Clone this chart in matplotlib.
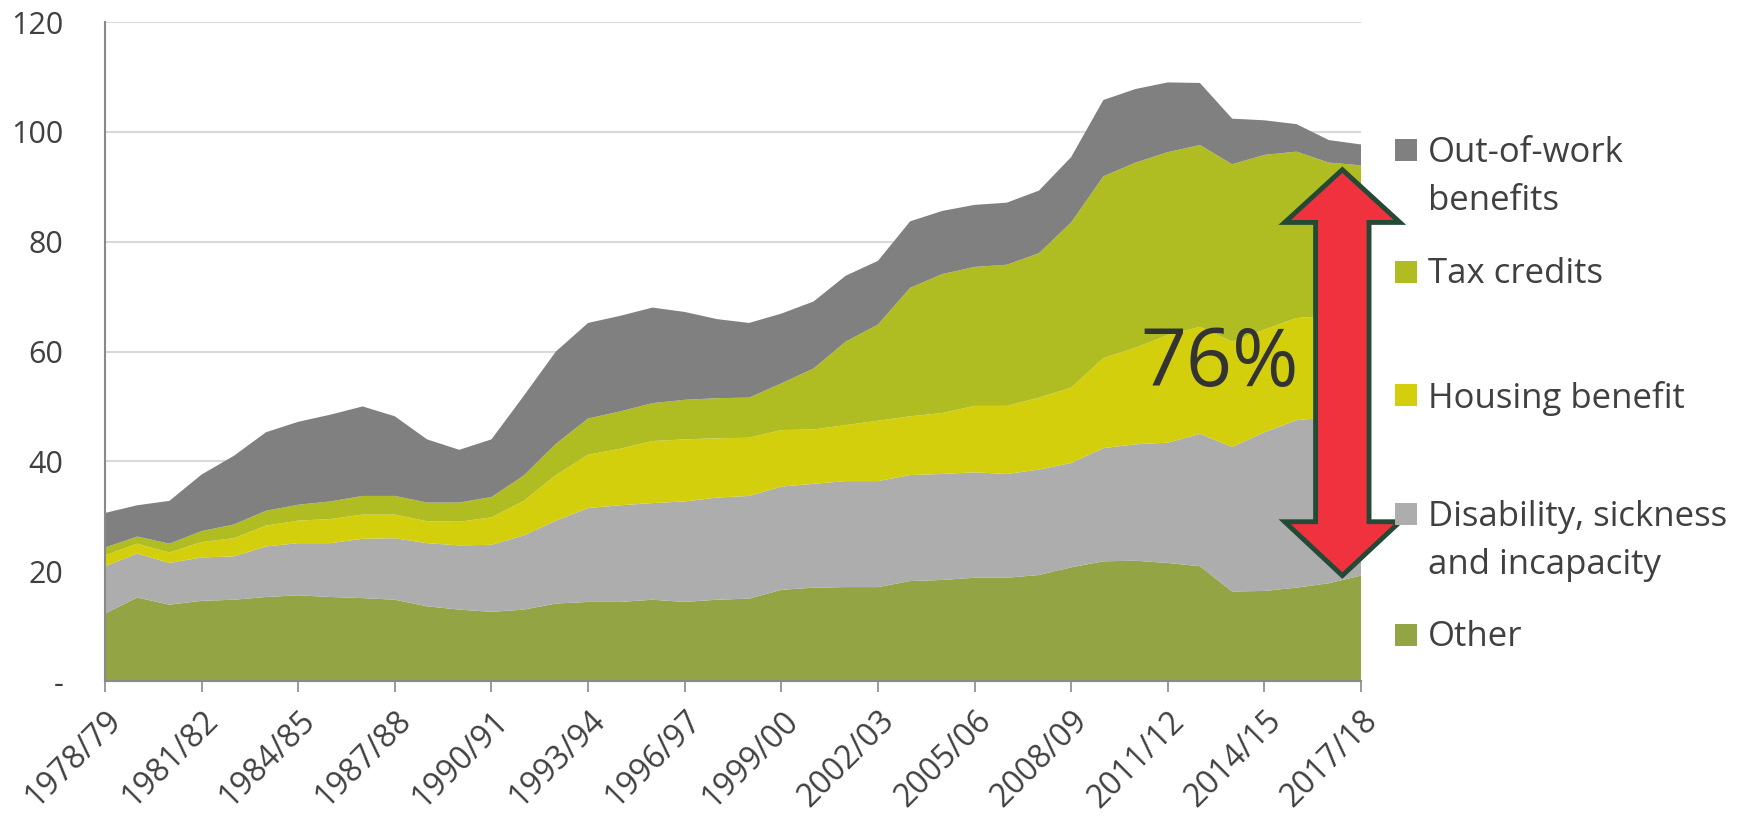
import matplotlib
matplotlib.use("Agg")
import matplotlib.pyplot as plt
import numpy as np
from matplotlib.patches import Polygon, Rectangle

years = [f"{y}/{str(y + 1)[-2:]}" for y in range(1978, 2018)]

other = [12.3, 15.2, 13.9, 14.6, 14.8, 15.3, 15.6, 15.3, 15.1, 14.8,
         13.6, 13.0, 12.6, 13.0, 14.1, 14.4, 14.4, 14.8, 14.4, 14.8,
         15.0, 16.6, 17.0, 17.1, 17.1, 18.2, 18.4, 18.8, 18.8, 19.3,
         20.7, 21.8, 21.9, 21.5, 20.9, 16.3, 16.4, 17.0, 17.8, 19.2]
disability = [8.6, 8.0, 7.6, 7.9, 7.9, 9.2, 9.5, 9.8, 10.8, 11.2,
              11.5, 11.7, 12.2, 13.5, 15.1, 17.1, 17.6, 17.6, 18.3, 18.6,
              18.7, 18.8, 18.9, 19.3, 19.3, 19.3, 19.3, 19.2, 18.9, 19.2,
              19.0, 20.6, 21.2, 21.9, 24.1, 26.3, 28.9, 30.5, 30.2, 29.3]
housing = [2.0, 1.8, 1.9, 2.8, 3.3, 3.8, 4.1, 4.4, 4.4, 4.3,
           4.0, 4.3, 5.0, 6.3, 8.3, 9.7, 10.3, 11.3, 11.3, 10.8,
           10.6, 10.3, 9.9, 10.2, 11.0, 10.7, 11.1, 12.1, 12.4, 13.1,
           13.7, 16.4, 17.6, 19.6, 19.5, 19.2, 18.7, 18.6, 18.5, 18.5]
tax_credits = [1.4, 1.3, 1.6, 2.0, 2.5, 2.7, 2.9, 3.2, 3.4, 3.4,
               3.4, 3.5, 3.7, 4.6, 5.7, 6.6, 6.8, 6.9, 7.2, 7.3,
               7.3, 8.5, 11.1, 15.2, 17.5, 23.4, 25.3, 25.3, 25.7, 26.3,
               30.1, 33.1, 33.7, 33.3, 33.1, 32.3, 31.8, 30.3, 27.9, 26.9]
out_of_work = [6.3, 5.7, 7.8, 10.3, 12.5, 14.3, 15.1, 15.8, 16.3, 14.5,
               11.5, 9.6, 10.5, 14.5, 16.8, 17.4, 17.4, 17.4, 16.0, 14.4,
               13.6, 12.7, 12.2, 12.0, 11.6, 12.1, 11.5, 11.3, 11.3, 11.4,
               11.9, 13.9, 13.4, 12.7, 11.3, 8.3, 6.3, 5.0, 4.1, 3.8]

series_labels = ["Other", "Disability, sickness\nand incapacity", "Housing benefit",
                 "Tax credits", "Out-of-work\nbenefits"]
colors = ["#93A445", "#ADADAD", "#D4CF0D", "#AFBD22", "#808080"]
y_ticks = [0, 20, 40, 60, 80, 100, 120]
y_tick_labels = ["-", "20", "40", "60", "80", "100", "120"]
share_label = "76%"

text_color = "#404040"
plt.rcParams["font.family"] = ["Open Sans", "DejaVu Sans"]

fig = plt.figure(figsize=(17.46, 8.16), dpi=100)
ax = fig.add_axes([105 / 1746, 1 - 681 / 816, (1361 - 105) / 1746, (681 - 22) / 816])

x = np.arange(len(years))
ax.stackplot(x, other, disability, housing, tax_credits, out_of_work,
             colors=colors, linewidth=0, zorder=2)

ax.set_xlim(0, len(years) - 1)
ax.set_ylim(0, 120)
ax.set_yticks(y_ticks)
ax.set_yticklabels(y_tick_labels)
ax.set_xticks(x[::3])
ax.set_xticklabels(years[::3], rotation=45, ha="right", va="top",
                   rotation_mode="anchor")
ax.tick_params(axis="y", length=0, pad=30, labelsize=22, labelcolor=text_color)
ax.tick_params(axis="x", length=8, width=1.2, color="#898989", pad=9,
               labelsize=23, labelcolor=text_color)
for lbl in ax.get_xticklabels():
    lbl.set_x(lbl.get_position()[0])
ax.grid(axis="y", color="#D9D9D9", linewidth=1.5, zorder=0)
ax.set_axisbelow(True)
for side in ["top", "right"]:
    ax.spines[side].set_visible(False)
for side in ["left", "bottom"]:
    ax.spines[side].set_color("#898989")
    ax.spines[side].set_linewidth(1.5)
    ax.spines[side].set_zorder(3)

# double-headed arrow marking the share
cx, top, head_top, head_bot, bot = 38.42, 93.1, 83.5, 29.0, 19.2
hw, sw = 1.79, 0.83
arrow = Polygon([(cx, top), (cx + hw, head_top), (cx + sw, head_top),
                 (cx + sw, head_bot), (cx + hw, head_bot), (cx, bot),
                 (cx - hw, head_bot), (cx - sw, head_bot), (cx - sw, head_top),
                 (cx - hw, head_top)],
                closed=True, facecolor="#F0323F", edgecolor="#234A35",
                linewidth=3.5, joinstyle="miter", clip_on=False, zorder=5)
ax.add_patch(arrow)
ax.text(34.6, 57.6, share_label, fontsize=58, color="#333333",
        ha="center", va="center", zorder=6)

# legend, top entry first
legend_y = [150, 272, 395, 514, 635]
for lab, col, yp in zip(series_labels[::-1], colors[::-1], legend_y):
    yf = 1 - yp / 816
    fig.patches.append(Rectangle((1395 / 1746, yf - 11 / 816), 22 / 1746, 22 / 816,
                                 transform=fig.transFigure, facecolor=col,
                                 edgecolor="none"))
    fig.text(1428 / 1746, yf + 14.5 / 816, lab, fontsize=25, color=text_color,
             ha="left", va="top", linespacing=1.55)

fig.savefig("out.png", dpi=100)
